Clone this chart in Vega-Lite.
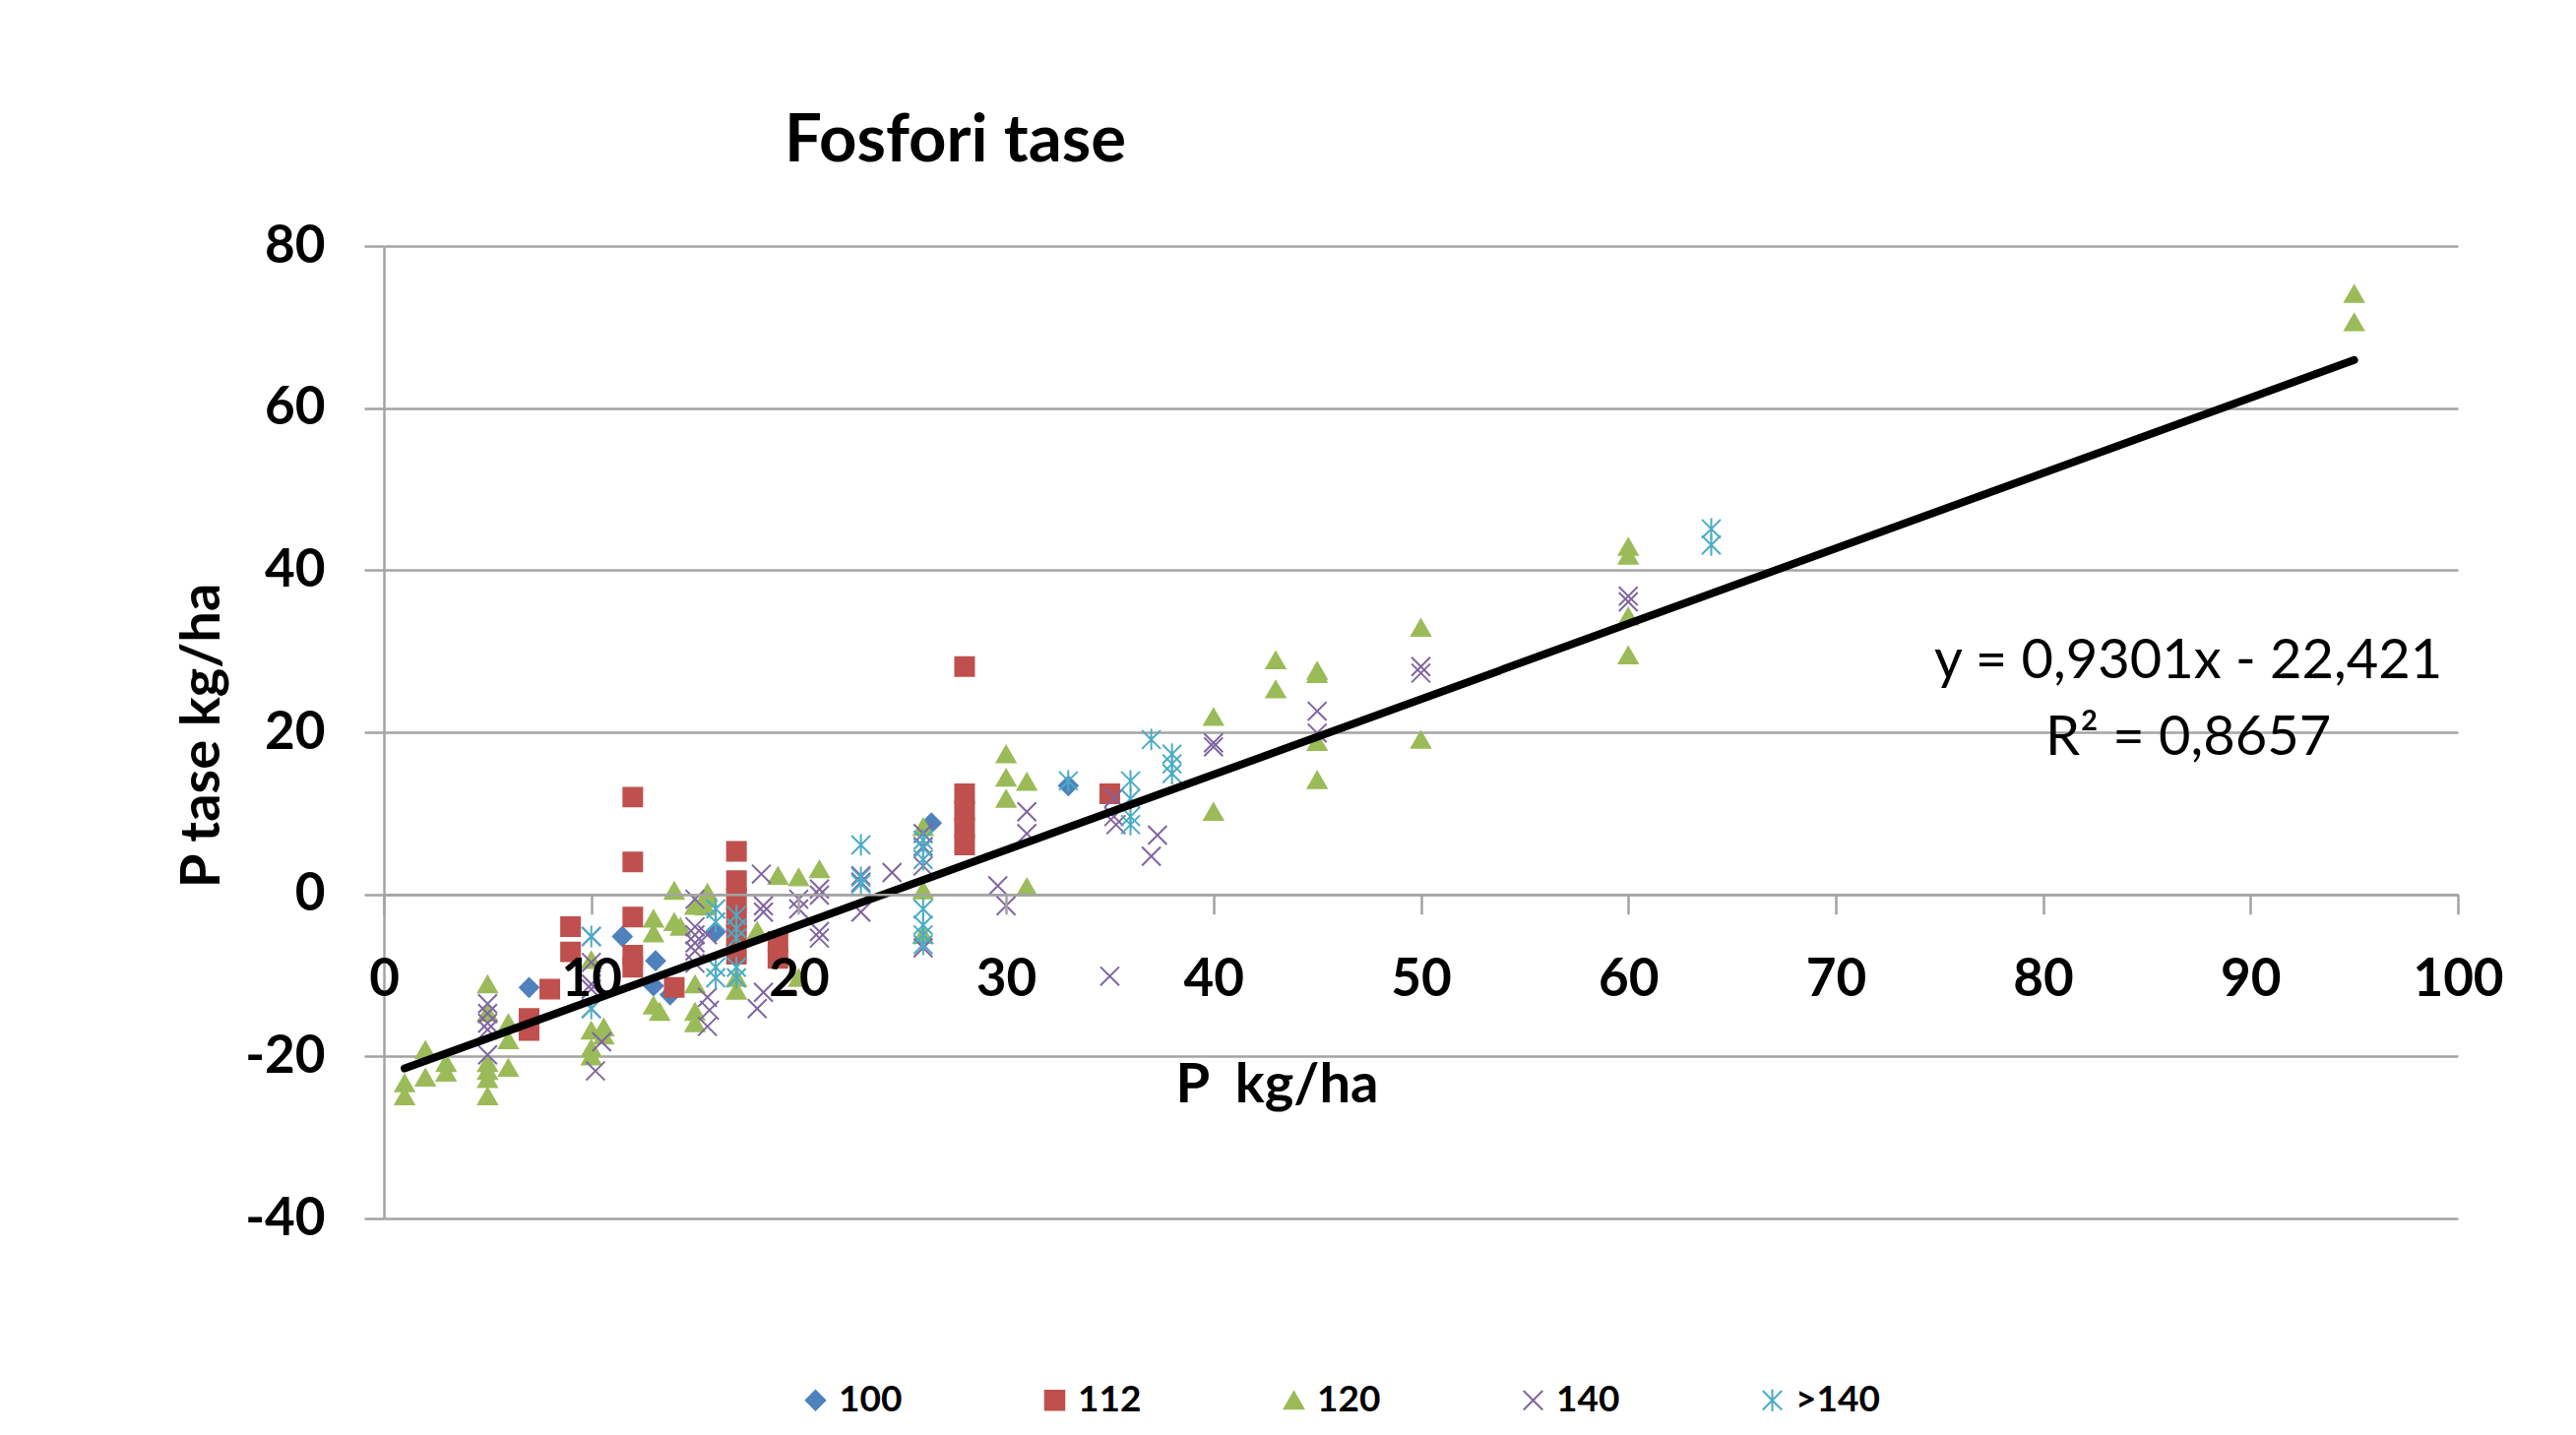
{
  "$schema": "https://vega.github.io/schema/vega-lite/v6.json",
  "width": 2107,
  "height": 988,
  "autosize": "none",
  "padding": {"left": 390, "top": 250, "right": 120, "bottom": 220},
  "background": "white",
  "config": {
    "font": "Lato",
    "view": {"stroke": null},
    "legend": {
      "title": null,
      "labelFont": "Lato",
      "labelFontSize": 37,
      "labelFontWeight": "bold",
      "labelColor": "black",
      "symbolSize": 380,
      "symbolStrokeWidth": 2,
      "labelOffset": 5,
      "columnPadding": 136,
      "padding": 0
    }
  },
  "title": {
    "text": "Fosfori tase",
    "font": "Lato",
    "fontSize": 67,
    "fontWeight": "bold",
    "color": "black",
    "anchor": "middle",
    "frame": "group",
    "dx": -473,
    "offset": 46
  },
  "layer": [
    {
      "data": {
        "values": [
          {"p": 7, "t": -11.5, "g": "100"}, {"p": 11.5, "t": -5.2, "g": "100"}, {"p": 13.1, "t": -8.2, "g": "100"}, {"p": 13, "t": -11.3, "g": "100"}, {"p": 13.8, "t": -12.4, "g": "100"}, {"p": 16, "t": -4.6, "g": "100"}, {"p": 26.4, "t": 8.8, "g": "100"}, {"p": 33, "t": 13.4, "g": "100"},
          {"p": 7, "t": -15.3, "g": "112"}, {"p": 7, "t": -16.8, "g": "112"}, {"p": 8, "t": -11.7, "g": "112"}, {"p": 9, "t": -4.0, "g": "112"}, {"p": 9, "t": -7.1, "g": "112"}, {"p": 12, "t": 12.0, "g": "112"}, {"p": 12, "t": 4.0, "g": "112"}, {"p": 12, "t": -2.8, "g": "112"}, {"p": 12, "t": -7.5, "g": "112"}, {"p": 12, "t": -9.0, "g": "112"}, {"p": 14, "t": -11.5, "g": "112"}, {"p": 17, "t": 5.3, "g": "112"}, {"p": 17, "t": 1.7, "g": "112"}, {"p": 17, "t": -0.5, "g": "112"}, {"p": 17, "t": -2.8, "g": "112"}, {"p": 17, "t": -5.0, "g": "112"}, {"p": 17, "t": -7.4, "g": "112"}, {"p": 19, "t": -5.8, "g": "112"}, {"p": 19, "t": -7.9, "g": "112"}, {"p": 28, "t": 28.1, "g": "112"}, {"p": 28, "t": 12.4, "g": "112"}, {"p": 28, "t": 10.3, "g": "112"}, {"p": 28, "t": 8.2, "g": "112"}, {"p": 28, "t": 6.1, "g": "112"}, {"p": 35, "t": 12.4, "g": "112"},
          {"p": 1, "t": -23.3, "g": "120"}, {"p": 1, "t": -24.9, "g": "120"}, {"p": 2, "t": -19.2, "g": "120"}, {"p": 2, "t": -22.6, "g": "120"}, {"p": 3, "t": -20.8, "g": "120"}, {"p": 3, "t": -22.0, "g": "120"},
          {"p": 5, "t": -11.1, "g": "120"}, {"p": 5, "t": -14.6, "g": "120"}, {"p": 5, "t": -20.8, "g": "120"}, {"p": 5, "t": -21.8, "g": "120"}, {"p": 5, "t": -22.8, "g": "120"}, {"p": 5, "t": -24.9, "g": "120"},
          {"p": 6, "t": -15.9, "g": "120"}, {"p": 6, "t": -18.0, "g": "120"}, {"p": 6, "t": -21.4, "g": "120"},
          {"p": 10, "t": -8.1, "g": "120"}, {"p": 10, "t": -16.8, "g": "120"}, {"p": 10, "t": -19.0, "g": "120"}, {"p": 10, "t": -20.0, "g": "120"}, {"p": 10.6, "t": -16.4, "g": "120"}, {"p": 10.6, "t": -17.4, "g": "120"},
          {"p": 13, "t": -3.0, "g": "120"}, {"p": 13, "t": -4.8, "g": "120"}, {"p": 13, "t": -13.7, "g": "120"}, {"p": 13.3, "t": -14.5, "g": "120"},
          {"p": 14, "t": 0.45, "g": "120"}, {"p": 14, "t": -3.4, "g": "120"}, {"p": 14.3, "t": -4.0, "g": "120"},
          {"p": 15, "t": -1.4, "g": "120"}, {"p": 15, "t": -11.1, "g": "120"}, {"p": 15, "t": -14.5, "g": "120"}, {"p": 15, "t": -15.9, "g": "120"}, {"p": 15.6, "t": 0.2, "g": "120"}, {"p": 15.6, "t": -0.5, "g": "120"}, {"p": 15.5, "t": -1.5, "g": "120"},
          {"p": 17, "t": -10.3, "g": "120"}, {"p": 17, "t": -11.9, "g": "120"}, {"p": 18, "t": -4.5, "g": "120"}, {"p": 19, "t": 2.3, "g": "120"}, {"p": 20, "t": 2.1, "g": "120"}, {"p": 20, "t": -10.3, "g": "120"}, {"p": 21, "t": 3.1, "g": "120"},
          {"p": 26, "t": 8.3, "g": "120"}, {"p": 26, "t": 0.5, "g": "120"}, {"p": 26, "t": -5.0, "g": "120"},
          {"p": 30, "t": 17.3, "g": "120"}, {"p": 30, "t": 14.4, "g": "120"}, {"p": 30, "t": 11.8, "g": "120"}, {"p": 31, "t": 13.9, "g": "120"}, {"p": 31, "t": 0.9, "g": "120"},
          {"p": 40, "t": 21.9, "g": "120"}, {"p": 40, "t": 10.2, "g": "120"}, {"p": 43, "t": 28.9, "g": "120"}, {"p": 43, "t": 25.3, "g": "120"}, {"p": 45, "t": 27.6, "g": "120"}, {"p": 45, "t": 27.2, "g": "120"}, {"p": 45, "t": 18.8, "g": "120"}, {"p": 45, "t": 14.1, "g": "120"},
          {"p": 50, "t": 32.9, "g": "120"}, {"p": 50, "t": 19.1, "g": "120"}, {"p": 60, "t": 42.9, "g": "120"}, {"p": 60, "t": 41.8, "g": "120"}, {"p": 60, "t": 34.3, "g": "120"}, {"p": 60, "t": 29.5, "g": "120"}, {"p": 95, "t": 74.1, "g": "120"}, {"p": 95, "t": 70.6, "g": "120"},
          {"p": 5, "t": -13.5, "g": "140"}, {"p": 5, "t": -14.7, "g": "140"}, {"p": 5, "t": -15.9, "g": "140"}, {"p": 5, "t": -16.7, "g": "140"}, {"p": 5, "t": -19.8, "g": "140"},
          {"p": 10, "t": -5.2, "g": "140"}, {"p": 10, "t": -8.4, "g": "140"}, {"p": 10, "t": -11.1, "g": "140"}, {"p": 10, "t": -11.7, "g": "140"}, {"p": 10, "t": -14.1, "g": "140"}, {"p": 10.2, "t": -21.8, "g": "140"}, {"p": 10.5, "t": -18.2, "g": "140"},
          {"p": 15, "t": -0.6, "g": "140"}, {"p": 15, "t": -4.0, "g": "140"}, {"p": 15, "t": -5.0, "g": "140"}, {"p": 15, "t": -6.0, "g": "140"}, {"p": 15, "t": -7.0, "g": "140"}, {"p": 15, "t": -8.5, "g": "140"},
          {"p": 15.6, "t": -5.0, "g": "140"}, {"p": 15.6, "t": -12.7, "g": "140"}, {"p": 15.7, "t": -14.3, "g": "140"}, {"p": 15.6, "t": -16.3, "g": "140"},
          {"p": 18.2, "t": 2.5, "g": "140"}, {"p": 18.3, "t": -1.4, "g": "140"}, {"p": 18.3, "t": -2.2, "g": "140"}, {"p": 18.3, "t": -12.1, "g": "140"}, {"p": 18, "t": -14.1, "g": "140"},
          {"p": 20, "t": -0.6, "g": "140"}, {"p": 20, "t": -1.8, "g": "140"}, {"p": 21, "t": 0.65, "g": "140"}, {"p": 21, "t": -0.1, "g": "140"}, {"p": 21, "t": -4.6, "g": "140"}, {"p": 21, "t": -5.4, "g": "140"},
          {"p": 23, "t": 2.3, "g": "140"}, {"p": 23, "t": 1.5, "g": "140"}, {"p": 23, "t": -2.2, "g": "140"}, {"p": 24.5, "t": 2.7, "g": "140"},
          {"p": 26, "t": 7.5, "g": "140"}, {"p": 26, "t": 5.9, "g": "140"}, {"p": 26, "t": 3.5, "g": "140"}, {"p": 26, "t": -6.6, "g": "140"},
          {"p": 29.6, "t": 1.05, "g": "140"}, {"p": 30, "t": -1.4, "g": "140"}, {"p": 31, "t": 10.2, "g": "140"}, {"p": 31, "t": 7.5, "g": "140"},
          {"p": 35, "t": -10.1, "g": "140"}, {"p": 35.2, "t": 11.9, "g": "140"}, {"p": 35.2, "t": 9.6, "g": "140"}, {"p": 35.3, "t": 8.6, "g": "140"},
          {"p": 37.3, "t": 7.3, "g": "140"}, {"p": 37, "t": 4.7, "g": "140"}, {"p": 40, "t": 18.7, "g": "140"}, {"p": 40, "t": 18.2, "g": "140"},
          {"p": 45, "t": 22.6, "g": "140"}, {"p": 45, "t": 19.9, "g": "140"}, {"p": 50, "t": 28.1, "g": "140"}, {"p": 50, "t": 27.3, "g": "140"}, {"p": 60, "t": 36.8, "g": "140"}, {"p": 60, "t": 36.1, "g": "140"},
          {"p": 10, "t": -5.2, "g": ">140"}, {"p": 10, "t": -14.1, "g": ">140"},
          {"p": 16, "t": -1.8, "g": ">140"}, {"p": 16, "t": -3.4, "g": ">140"}, {"p": 16, "t": -9.0, "g": ">140"}, {"p": 16, "t": -10.3, "g": ">140"},
          {"p": 17, "t": -2.6, "g": ">140"}, {"p": 17, "t": -4.2, "g": ">140"}, {"p": 17, "t": -5.4, "g": ">140"}, {"p": 17, "t": -9.0, "g": ">140"}, {"p": 17, "t": -10.3, "g": ">140"},
          {"p": 23, "t": 6.1, "g": ">140"}, {"p": 23, "t": 2.1, "g": ">140"}, {"p": 23, "t": 1.3, "g": ">140"},
          {"p": 26, "t": 6.7, "g": ">140"}, {"p": 26, "t": 5.7, "g": ">140"}, {"p": 26, "t": 4.3, "g": ">140"}, {"p": 26, "t": -1.8, "g": ">140"}, {"p": 26, "t": -3.8, "g": ">140"}, {"p": 26, "t": -5.0, "g": ">140"}, {"p": 26, "t": -6.2, "g": ">140"},
          {"p": 33, "t": 14.0, "g": ">140"}, {"p": 36, "t": 14.0, "g": ">140"}, {"p": 36, "t": 11.8, "g": ">140"}, {"p": 36, "t": 9.6, "g": ">140"}, {"p": 36, "t": 8.6, "g": ">140"}, {"p": 37, "t": 19.1, "g": ">140"}, {"p": 38, "t": 17.3, "g": ">140"}, {"p": 38, "t": 16.1, "g": ">140"}, {"p": 38, "t": 14.9, "g": ">140"}, {"p": 64, "t": 45.1, "g": ">140"}, {"p": 64, "t": 43.1, "g": ">140"}
        ]
      },
      "mark": {"type": "point", "filled": true, "opacity": 1, "strokeWidth": 2, "size": 360},
      "encoding": {
        "x": {
          "field": "p",
          "type": "quantitative",
          "scale": {"domain": [0, 100], "nice": false, "zero": false},
          "axis": {
            "title": "P\u00a0 kg/ha",
            "values": [0, 10, 20, 30, 40, 50, 60, 70, 80, 90, 100],
            "grid": false,
            "offset": -329.3,
            "zindex": 1,
            "domainColor": "#a3a3a3",
            "domainWidth": 2.5,
            "tickColor": "#a3a3a3",
            "tickWidth": 2.5,
            "tickSize": 20,
            "labelFont": "Lato",
            "labelFontSize": 53,
            "labelFontWeight": "bold",
            "labelColor": "black",
            "labelPadding": 41,
            "labelFlush": false,
            "labelOverlap": false,
            "titleFont": "Lato",
            "titleFontSize": 56,
            "titleFontWeight": "bold",
            "titleColor": "black",
            "titleX": 907,
            "titleY": 211,
            "titleBaseline": "alphabetic",
            "titleAlign": "center"
          }
        },
        "y": {
          "field": "t",
          "type": "quantitative",
          "scale": {"domain": [-40, 80], "nice": false, "zero": false},
          "axis": {
            "title": "P tase kg/ha",
            "values": [-40, -20, 0, 20, 40, 60, 80],
            "labelExpr": "datum.value < 0 ? '-' + abs(datum.value) : '' + datum.value",
            "grid": true,
            "gridColor": "#a3a3a3",
            "gridWidth": 2.5,
            "domainColor": "#a3a3a3",
            "domainWidth": 2.5,
            "tickColor": "#a3a3a3",
            "tickWidth": 2.5,
            "tickSize": 20,
            "labelFont": "Lato",
            "labelFontSize": 53,
            "labelFontWeight": "bold",
            "labelColor": "black",
            "labelPadding": 40,
            "labelFlush": false,
            "labelOverlap": false,
            "titleFont": "Lato",
            "titleFontSize": 56,
            "titleFontWeight": "bold",
            "titleColor": "black",
            "titleX": -168,
            "titleY": 497,
            "titleAngle": -90,
            "titleBaseline": "alphabetic",
            "titleAlign": "center"
          }
        },
        "shape": {
          "field": "g",
          "type": "nominal",
          "scale": {
            "domain": ["100", "112", "120", "140", ">140"],
            "range": ["diamond", "square", "triangle-up", "M-1,-1L1,1M-1,1L1,-1", "M-1,-1L1,1M-1,1L1,-1M0,-1.15L0,1.15"]
          },
          "legend": {"orient": "none", "legendX": 420, "legendY": 1154, "direction": "horizontal", "columns": 5}
        },
        "fill": {
          "field": "g",
          "type": "nominal",
          "scale": {
            "domain": ["100", "112", "120", "140", ">140"],
            "range": ["#4F81BD", "#C0504D", "#9BBB59", "#8064A2", "#4BACC6"]
          },
          "legend": {"orient": "none", "legendX": 420, "legendY": 1154, "direction": "horizontal", "columns": 5}
        },
        "stroke": {
          "field": "g",
          "type": "nominal",
          "scale": {
            "domain": ["100", "112", "120", "140", ">140"],
            "range": ["#4F81BD", "#C0504D", "#9BBB59", "#8064A2", "#4BACC6"]
          },
          "legend": {"orient": "none", "legendX": 420, "legendY": 1154, "direction": "horizontal", "columns": 5}
        }
      }
    },
    {
      "data": {"values": [{"p": 1, "t": -21.491}, {"p": 95, "t": 65.939}]},
      "mark": {"type": "line", "color": "black", "strokeWidth": 8, "strokeCap": "round"},
      "encoding": {
        "x": {"field": "p", "type": "quantitative"},
        "y": {"field": "t", "type": "quantitative"}
      }
    },
    {
      "data": {"values": [{}]},
      "mark": {
        "type": "text",
        "text": ["y = 0,9301x - 22,421", "R\u00b2 = 0,8657"],
        "font": "Lato",
        "fontSize": 56,
        "color": "black",
        "align": "center",
        "baseline": "alphabetic",
        "lineHeight": 78
      },
      "encoding": {
        "x": {"datum": 87},
        "y": {"datum": 26.7}
      }
    }
  ]
}
